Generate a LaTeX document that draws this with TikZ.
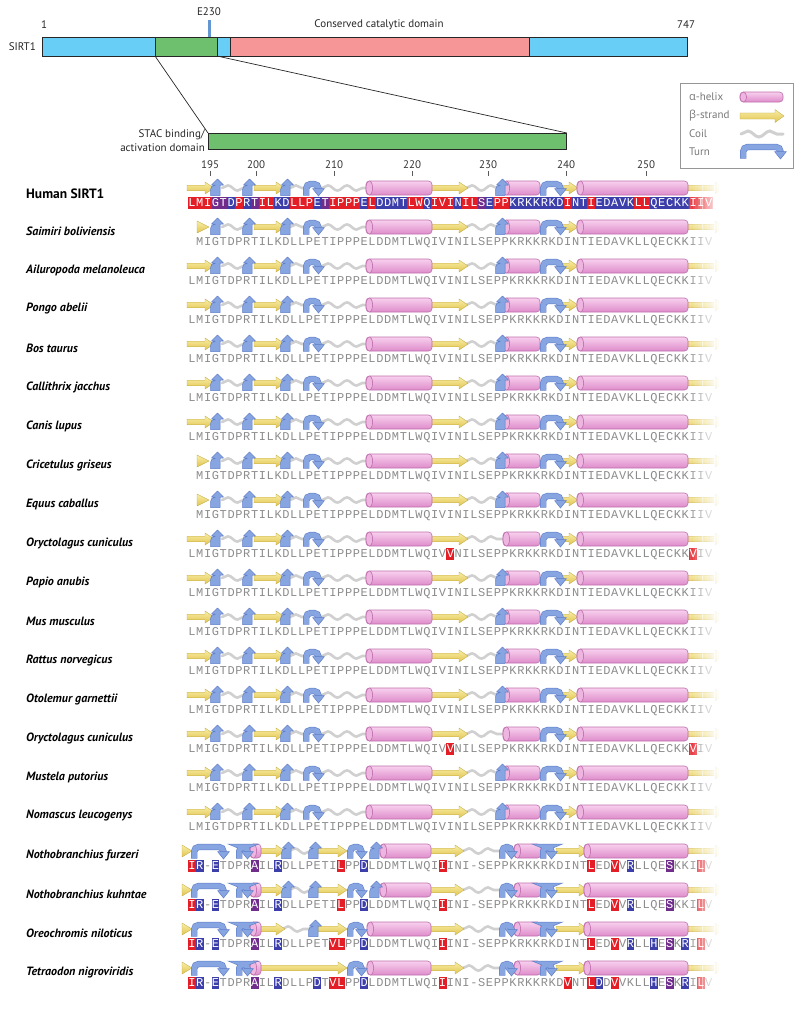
\documentclass[tikz,border=0pt]{standalone}
\usepackage{fontspec}
\setmainfont{PT Sans}
\newfontfamily\grkfont{Open Sans}
\newfontfamily\seqfont{Liberation Mono}
\usetikzlibrary{decorations.pathmorphing}
\definecolor{barcyan}{RGB}{104,206,246}
\definecolor{bargreen}{RGB}{110,192,110}
\definecolor{barpink}{RGB}{246,150,150}
\definecolor{etick}{RGB}{100,150,210}
\definecolor{helixL}{RGB}{248,208,238}
\definecolor{helixD}{RGB}{222,140,202}
\definecolor{helixE}{RGB}{190,110,172}
\definecolor{strandL}{RGB}{248,238,165}
\definecolor{strandD}{RGB}{226,196,80}
\definecolor{coilc}{RGB}{208,208,208}
\definecolor{turnF}{RGB}{135,165,225}
\definecolor{turnE}{RGB}{95,125,200}
\definecolor{seqgray}{RGB}{140,140,140}
\definecolor{hlred}{RGB}{228,30,38}
\definecolor{hlblue}{RGB}{60,62,170}
\definecolor{hlpurple}{RGB}{112,45,140}
\definecolor{legtext}{RGB}{120,120,120}
\definecolor{legbox}{RGB}{150,150,150}
\definecolor{tickc}{RGB}{90,90,90}
\tikzset{
  barseg/.style={draw=black!85, line width=0.9},
  toplab/.style={font=\fontsize{11}{13}\selectfont, text=black!85, inner sep=0},
  numlab/.style={font=\fontsize{11}{13}\selectfont, text=black!80, inner sep=0},
  legtxt/.style={font=\fontsize{11}{13}\selectfont, text=legtext, inner sep=0, anchor=west},
  species/.style={font=\fontsize{12}{14}\selectfont\bfseries\itshape, anchor=west, inner sep=0},
  humanlab/.style={font=\fontsize{13.5}{15}\selectfont\bfseries, anchor=west, inner sep=0},
  seqch/.style={font=\seqfont\fontsize{12}{12}\selectfont, text=seqgray, inner sep=0, anchor=base},
  hlch/.style={font=\seqfont\fontsize{12}{12}\selectfont, text=white, inner sep=0, anchor=base},
  connline/.style={draw=black!85, line width=0.7},
}
% ---------- sequence machinery ----------
\newcount\seqk
\def\seqX{192}\def\seqY{0}
\newcommand\SeqRow[3]{\def\seqY{#1}\seqk=#2\relax\seqloop#3\relax}
\def\seqloop#1{%
  \ifx#1\relax\let\seqnext\relax
  \else\ifx#1r\def\seqnext{\seqhl{hlred}}%
  \else\ifx#1b\def\seqnext{\seqhl{hlblue}}%
  \else\ifx#1p\def\seqnext{\seqhl{hlpurple}}%
  \else\ifx#1.\def\seqnext{\advance\seqk by 1\relax\seqloop}%
  \else\def\seqnext{\seqplain{#1}\seqloop}%
  \fi\fi\fi\fi\fi\seqnext}
\def\seqplain#1{\node[seqch] at ({\seqX+\the\seqk*7.83},\seqY+3.6) {#1};\advance\seqk by 1\relax}
\def\seqhl#1#2{\fill[#1] ({\seqX+\the\seqk*7.83-3.95},\seqY-6) rectangle ++(7.9,12);%
  \node[hlch] at ({\seqX+\the\seqk*7.83},\seqY+3.6) {#2};\advance\seqk by 1\relax\seqloop}
% ---------- structure glyphs ----------
\newcommand\Strand[4][6]{%
  \path[top color=strandL, bottom color=strandD, draw=strandD!85!black, line width=0.3]
    (#2,#4-#1*0.47) -- (#3-9,#4-#1*0.47) -- (#3-9,#4-#1) -- (#3,#4) -- (#3-9,#4+#1) -- (#3-9,#4+#1*0.47) -- (#2,#4+#1*0.47) -- cycle;}
\newcommand\Tri[3]{%
  \path[top color=strandL, bottom color=strandD, draw=strandD!85!black, line width=0.3]
    (#1,#3-6) -- (#2,#3) -- (#1,#3+6) -- cycle;}
\newcommand\Helix[4][7]{%
  \path[top color=helixL, bottom color=helixD, draw=helixE, line width=0.6, rounded corners=3.5] (#2,#4-#1) rectangle (#3,#4+#1);
  \path[fill=helixL!60!helixD, draw=helixE, line width=0.6] (#2+3.3,#4) ellipse [x radius=3.3, y radius=#1];}
\newcommand\Coil[3]{\draw[coilc, line width=2.6, line cap=round, decorate, decoration={snake, amplitude=2.6, segment length=19}] (#1,#3) -- (#2,#3);}
\newcommand\Bend[2]{%
  \filldraw[fill=turnF, draw=turnE, line width=0.5, line join=round]
   (#1-5.5,#2+7.5) -- (#1-5.5,#2+1.5) .. controls (#1-5.5,#2-1.5) and (#1-3.5,#2-2.5) .. (#1-1,#2-2.5)
   -- (#1-1,#2-3) -- (#1-4.5,#2-3) -- (#1+1.5,#2-9) -- (#1+7.5,#2-3) -- (#1+4,#2-3) -- (#1+4,#2+7.5) -- cycle;}
\newcommand\Turn[3]{%
  \draw[turnE, line width=6.4, rounded corners=4.5] (#1+3.2,#3+7.5) -- (#1+3.2,#3-4) -- (#2-5.5,#3-4) -- (#2-5.5,#3+1);
  \draw[turnF, line width=5.2, rounded corners=4.5] (#1+3.2,#3+7.2) -- (#1+3.2,#3-4) -- (#2-5.5,#3-4) -- (#2-5.5,#3+1.3);
  \filldraw[fill=turnF, draw=turnE, line width=0.5, line join=round] (#2-11.5,#3+0.5) -- (#2+0.5,#3+0.5) -- (#2-5.5,#3+8) -- cycle;}
% mammal structure: #1 y, #2 lead (0 strand / 1 triangle), #3 bend before 2nd helix (1/0)
\newcommand\Mammal[3]{%
  \Coil{222}{246}{#1}\Coil{290}{306}{#1}\Coil{322}{368}{#1}%
  \ifnum#3=1\relax\Coil{466}{500}{#1}\else\Coil{466}{506}{#1}\fi
  \ifnum#2=0\relax\Strand{187}{214}{#1}\else\Tri{197}{209}{#1}\fi
  \Strand{254}{285}{#1}\Strand{431}{468}{#1}\Strand{557}{578}{#1}\Strand{688}{724}{#1}%
  \Helix{366}{432}{#1}\Helix{503}{540}{#1}\Helix{577}{688}{#1}%
  \Bend{216}{#1}\Bend{248}{#1}\Bend{286}{#1}%
  \ifnum#3=1\relax\Bend{501}{#1}\fi
  \Turn{303}{324}{#1}\Turn{540}{566}{#1}}
% fish structure: #1 y, #2 variant (1 furzeri/kuhntae, 2 oreochromis, 3 tetraodon)
\newcommand\Fish[2]{%
  \Coil{463}{502}{#1}%
  \ifnum#2=1\relax\Coil{289}{312}{#1}\fi
  \ifnum#2=2\relax\Coil{282}{312}{#1}\fi
  \ifnum#2=3\relax\Coil{352}{368}{#1}\fi
  \Tri{182}{192}{#1}%
  \ifnum#2=3\relax\Strand{261}{347}{#1}\else\Strand{261}{285}{#1}\Strand{318}{347}{#1}\fi
  \Strand{430}{464}{#1}\Strand{556}{588}{#1}\Strand{688}{724}{#1}%
  \Helix{250}{261}{#1}%
  \ifnum#2=1\relax\Helix{380}{431}{#1}\else\Helix{367}{431}{#1}\fi
  \Helix{514}{541}{#1}\Helix{584}{688}{#1}%
  \Turn{191}{229}{#1}\Turn{236}{253}{#1}%
  \ifnum#2=1\relax\Bend{287}{#1}\Bend{314}{#1}\Bend{375}{#1}\fi
  \ifnum#2=2\relax\Bend{314}{#1}\fi
  \Turn{347}{367}{#1}\Turn{499}{517}{#1}\Turn{540}{557}{#1}}
\begin{document}
\begin{tikzpicture}[x=1pt,y=-1pt]
\useasboundingbox (0,0) rectangle (800,1009);
% ---------- domain bar ----------
\fill[etick] (207.5,20) rectangle (210.5,37);
\draw[barseg, fill=barcyan] (42,37) rectangle (155,56);
\draw[barseg, fill=bargreen] (155,37) rectangle (217,56);
\draw[barseg, fill=barcyan] (217,37) rectangle (230,56);
\draw[barseg, fill=barpink] (230,37) rectangle (529,56);
\draw[barseg, fill=barcyan] (529,37) rectangle (687,56);
\coordinate (gl) at (155,56);
\coordinate (gr) at (217,56);
\node[draw=black!85, line width=0.9, fill=bargreen, minimum width=358, minimum height=16, inner sep=0, anchor=north west] (stac) at (208,133) {};
\draw[connline] (gl) -- (stac.north west);
\draw[connline] (gr) -- (stac.north east);
\node[toplab] (e230) at (209,12) {E230};
\node[toplab] (one) at (44,25) {1};
\node[toplab] (ccd) at (379,25) {Conserved catalytic domain};
\node[toplab] (n747) at (686,25) {747};
\node[toplab, anchor=east] (sirt) at (36,47) {SIRT1};
\node[toplab, anchor=east] (stac1) at (205,135) {STAC binding/};
\node[toplab, anchor=east] (stac2) at (205,148) {activation domain};
% ---------- legend ----------
\draw[legbox, line width=0.8] (680,83) rectangle (793,168);
\node[legtxt] (lh) at (689,97) {{\grkfont α}-helix};
\node[legtxt] (ls) at (689,116) {{\grkfont β}-strand};
\node[legtxt] (lc) at (689,134) {Coil};
\node[legtxt] (lt) at (689,152) {Turn};
\Helix[5]{740}{783}{97}
\Strand[6.5]{740}{784}{116}
\draw[coilc, line width=3, line cap=round, decorate, decoration={snake, amplitude=3, segment length=22}] (741,134) -- (783,134);
\Turn{740}{786}{151}
% ---------- scale ----------
\foreach \n/\x in {195/210,200/256,210/334,220/412,230/488,240/566,250/646}{
  \node[numlab] at (\x,165) {\n};
  \draw[tickc, line width=0.7] (\x,171) -- (\x,176);
}
% ---------- human ----------
\node[humanlab] (human) at (26,194) {Human SIRT1};
\Mammal{188}{0}{1}
\SeqRow{203}{0}{rLrMrIpGpTbDrPbRpTrIrLbKbDrLrLrPbEpTrIrPrPrPbErLbDbDbMbTrLrWbQrIrVrIbNrIrLpSbErPrPbKbRbKbKbRbKbDrIbNbTrIbEbDbAbVbKrLrLbQbEbCbKbKrIrIrV}
% ---------- mammals ----------
\node[species] (s1) at (26,231) {Saimiri boliviensis};
\Mammal{227}{1}{1}\SeqRow{242}{1}{MIGTDPRTILKDLLPETIPPPELDDMTLWQIVINILSEPPKRKKRKDINTIEDAVKLLQECKKIIV}
\node[species] (s2) at (26,270) {Ailuropoda melanoleuca};
\Mammal{266}{0}{1}\SeqRow{281}{0}{LMIGTDPRTILKDLLPETIPPPELDDMTLWQIVINILSEPPKRKKRKDINTIEDAVKLLQECKKIIV}
\node[species] (s3) at (26,309) {Pongo abelii};
\Mammal{305}{0}{1}\SeqRow{320}{0}{LMIGTDPRTILKDLLPETIPPPELDDMTLWQIVINILSEPPKRKKRKDINTIEDAVKLLQECKKIIV}
\node[species] (s4) at (26,348) {Bos taurus};
\Mammal{344}{0}{1}\SeqRow{359}{0}{LMIGTDPRTILKDLLPETIPPPELDDMTLWQIVINILSEPPKRKKRKDINTIEDAVKLLQECKKIIV}
\node[species] (s5) at (26,387) {Callithrix jacchus};
\Mammal{383}{0}{1}\SeqRow{398}{0}{LMIGTDPRTILKDLLPETIPPPELDDMTLWQIVINILSEPPKRKKRKDINTIEDAVKLLQECKKIIV}
\node[species] (s6) at (26,426) {Canis lupus};
\Mammal{422}{0}{1}\SeqRow{437}{0}{LMIGTDPRTILKDLLPETIPPPELDDMTLWQIVINILSEPPKRKKRKDINTIEDAVKLLQECKKIIV}
\node[species] (s7) at (26,465) {Cricetulus griseus};
\Mammal{461}{1}{1}\SeqRow{476}{1}{MIGTDPRTILKDLLPETIPPPELDDMTLWQIVINILSEPPKRKKRKDINTIEDAVKLLQECKKIIV}
\node[species] (s8) at (26,504) {Equus caballus};
\Mammal{500}{1}{1}\SeqRow{515}{1}{MIGTDPRTILKDLLPETIPPPELDDMTLWQIVINILSEPPKRKKRKDINTIEDAVKLLQECKKIIV}
\node[species] (s9) at (26,543) {Oryctolagus cuniculus};
\Mammal{539}{0}{0}\SeqRow{554}{0}{LMIGTDPRTILKDLLPETIPPPELDDMTLWQIVrVNILSEPPKRKKRKDINTIEDAVKLLQECKKrVIV}
\node[species] (s10) at (26,582) {Papio anubis};
\Mammal{578}{0}{1}\SeqRow{593}{0}{LMIGTDPRTILKDLLPETIPPPELDDMTLWQIVINILSEPPKRKKRKDINTIEDAVKLLQECKKIIV}
\node[species] (s11) at (26,621) {Mus musculus};
\Mammal{617}{0}{1}\SeqRow{632}{0}{LMIGTDPRTILKDLLPETIPPPELDDMTLWQIVINILSEPPKRKKRKDINTIEDAVKLLQECKKIIV}
\node[species] (s12) at (26,660) {Rattus norvegicus};
\Mammal{656}{0}{1}\SeqRow{671}{0}{LMIGTDPRTILKDLLPETIPPPELDDMTLWQIVINILSEPPKRKKRKDINTIEDAVKLLQECKKIIV}
\node[species] (s13) at (26,699) {Otolemur garnettii};
\Mammal{695}{0}{1}\SeqRow{710}{0}{LMIGTDPRTILKDLLPETIPPPELDDMTLWQIVINILSEPPKRKKRKDINTIEDAVKLLQECKKIIV}
\node[species] (s14) at (26,738) {Oryctolagus cuniculus};
\Mammal{734}{0}{0}\SeqRow{749}{0}{LMIGTDPRTILKDLLPETIPPPELDDMTLWQIVrVNILSEPPKRKKRKDINTIEDAVKLLQECKKrVIV}
\node[species] (s15) at (26,777) {Mustela putorius};
\Mammal{773}{0}{1}\SeqRow{788}{0}{LMIGTDPRTILKDLLPETIPPPELDDMTLWQIVINILSEPPKRKKRKDINTIEDAVKLLQECKKIIV}
\node[species] (s16) at (26,816) {Nomascus leucogenys};
\Mammal{812}{0}{1}\SeqRow{827}{0}{LMIGTDPRTILKDLLPETIPPPELDDMTLWQIVINILSEPPKRKKRKDINTIEDAVKLLQECKKIIV}
% ---------- fish ----------
\node[species] (s17) at (26,855) {Nothobranchius furzeri};
\Fish{851}{1}\SeqRow{866}{0}{rIbR-bETDPRpAILbRDLLPETIrLPPbDLDDMTLWQIrIINI-SEPPKRKKRKDINTrLEDrVVbRLLQEpSKKIrLV}
\node[species] (s18) at (26,894) {Nothobranchius kuhntae};
\Fish{890}{1}\SeqRow{905}{0}{rIbR-bETDPRpAILbRDLLPETIrLPPbDLDDMTLWQIrIINI-SEPPKRKKRKDINTrLEDrVVbRLLQEpSKKIrLV}
\node[species] (s19) at (26,933) {Oreochromis niloticus};
\Fish{929}{2}\SeqRow{944}{0}{rIbR-bETDPRpAILbRDLLPETrVrLPPbDLDDMTLWQIrIINI-SEPPKRKKRKDINTrLEDrVVbRLLbHEpSKbRIrLV}
\node[species] (s20) at (26,972) {Tetraodon nigroviridis};
\Fish{968}{3}\SeqRow{983}{0}{rIbR-bETDPRpAILbRDLLPbDTrVrLPPbDLDDMTLWQIrIINI-SEPPKRKKRKDrVNTrLbDDrVVKLLbHEpSKbRIrLV}
% ---------- right fade ----------
\foreach \i in {0,...,13}{
  \pgfmathsetmacro\op{(\i+1)/14}
  \fill[white, fill opacity=\op] ({688+\i*2.4},177) rectangle ({688+\i*2.4+2.5},1000);
}
\fill[white] (721,177) rectangle (745,1000);
\end{tikzpicture}
\end{document}
